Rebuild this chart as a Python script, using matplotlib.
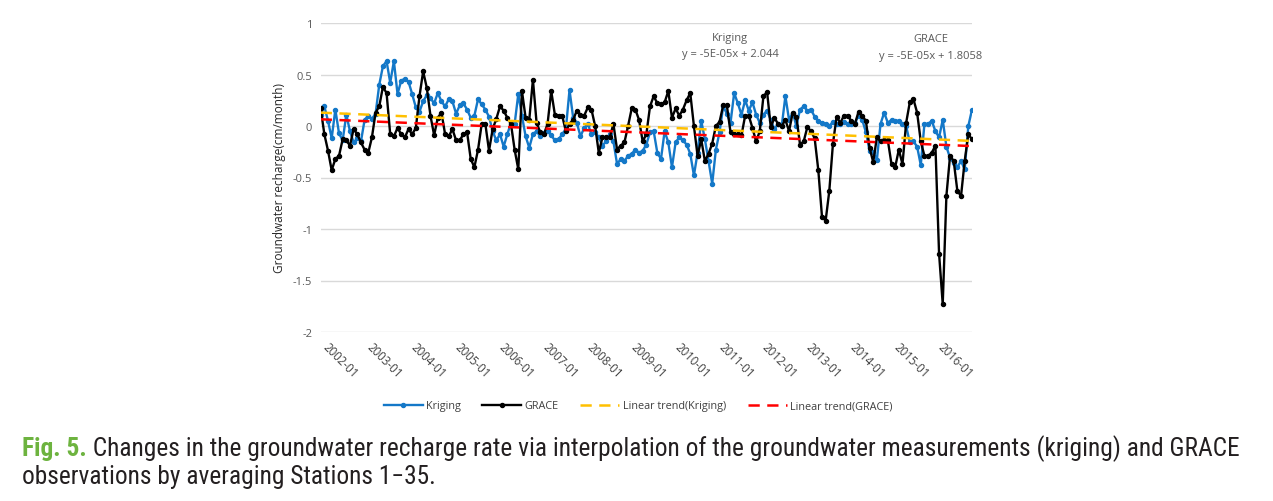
import matplotlib
matplotlib.use("Agg")
import matplotlib.pyplot as plt
import numpy as np

# ---------------- data (monthly, 2002-01 ... ) ----------------
kriging = [0.11, 0.19, 0.05, -0.12, 0.16, -0.07, -0.14, 0.11, -0.05, -0.16,
           -0.12, -0.15, 0.06, 0.10, 0.07, 0.12, 0.40, 0.58, 0.63, 0.42,
           0.63, 0.31, 0.44, 0.46, 0.43, 0.31, 0.18, 0.14, 0.24, 0.30,
           0.27, 0.22, 0.32, 0.24, 0.19, 0.26, 0.24, 0.12, 0.20, 0.22,
           0.16, 0.08, 0.10, 0.26, 0.21, 0.16, 0.09, -0.05, -0.14, -0.08,
           -0.20, -0.08, 0.03, 0.02, 0.31, 0.10, -0.10, -0.21, -0.08, -0.05,
           -0.10, -0.07, -0.05, -0.09, -0.14, -0.13, -0.08, -0.03, 0.35, 0.08,
           0.03, -0.10, -0.02, 0.02, -0.08, -0.06, -0.11, -0.19, -0.15, -0.08,
           -0.15, -0.37, -0.32, -0.34, -0.29, -0.27, -0.23, -0.26, -0.24, -0.18,
           -0.06, -0.05, -0.26, -0.32, -0.05, -0.16, -0.40, -0.16, -0.11, -0.14,
           -0.18, -0.27, -0.48, -0.26, 0.05, -0.13, -0.34, -0.56, -0.23, -0.06,
           0.19, 0.12, 0.03, 0.32, 0.22, 0.11, 0.25, 0.15, 0.23, 0.11,
           0.03, 0.11, 0.15, 0.06, -0.03, 0.02, 0.00, 0.29, 0.06, 0.13,
           0.00, 0.16, 0.19, 0.15, 0.16, 0.09, 0.05, 0.03, 0.02, 0.00,
           0.04, 0.02, 0.02, 0.04, 0.02, 0.02, 0.03, 0.10, 0.06, -0.06,
           -0.24, -0.25, -0.33, 0.02, 0.13, 0.03, 0.06, 0.05, 0.05, 0.02,
           0.00, -0.16, -0.15, -0.20, -0.38, 0.02, 0.02, 0.05, -0.05, -0.11,
           0.06, -0.20, -0.31, -0.36, -0.40, -0.34, -0.42, 0.00, 0.16]

grace = [0.17, -0.08, -0.24, -0.43, -0.32, -0.29, -0.13, -0.14, -0.19, -0.03,
         -0.08, -0.16, -0.23, -0.26, -0.11, 0.13, 0.19, 0.38, 0.32, -0.08,
         -0.10, -0.02, -0.08, -0.11, -0.03, -0.08, -0.02, 0.29, 0.53, 0.37,
         0.10, -0.09, 0.08, 0.13, -0.08, -0.10, -0.03, -0.14, -0.14, -0.08,
         -0.06, -0.32, -0.40, -0.23, 0.02, 0.02, -0.24, -0.03, 0.07, 0.19,
         0.15, 0.08, 0.02, -0.23, -0.42, 0.34, 0.08, 0.06, 0.45, 0.03,
         -0.06, -0.08, 0.02, 0.34, 0.11, 0.10, 0.10, -0.05, 0.02, 0.06,
         0.15, 0.11, 0.10, 0.18, 0.16, 0.00, -0.26, -0.11, -0.11, -0.11,
         0.02, -0.23, -0.19, -0.16, 0.00, 0.17, 0.16, 0.06, -0.15, -0.08,
         0.19, 0.29, 0.22, 0.21, 0.23, 0.34, 0.08, 0.17, 0.10, 0.16,
         0.25, 0.32, 0.00, -0.29, -0.13, -0.34, -0.27, -0.17, 0.00, 0.04,
         0.20, 0.20, -0.06, -0.08, -0.08, -0.09, 0.10, 0.10, -0.02, -0.15,
         -0.05, 0.29, 0.33, -0.01, 0.08, 0.02, 0.00, 0.06, -0.05, 0.13,
         0.09, -0.18, -0.15, -0.01, -0.05, -0.12, -0.43, -0.88, -0.92, -0.63,
         -0.17, 0.09, 0.03, 0.10, 0.10, 0.05, 0.02, 0.14, 0.10, 0.05,
         -0.21, -0.35, -0.11, -0.15, -0.14, -0.14, -0.37, -0.40, -0.23, -0.37,
         0.03, 0.23, 0.26, 0.13, -0.15, -0.29, -0.29, -0.26, -0.19, -1.24,
         -1.73, -0.68, -0.29, -0.34, -0.63, -0.68, -0.34, -0.08, -0.13]

# linear trend lines: values at first and last month
trend_kriging = [0.13, -0.145]
trend_grace = [0.065, -0.195]

tick_labels = ["2002-01", "2003-01", "2004-01", "2005-01", "2006-01",
               "2007-01", "2008-01", "2009-01", "2010-01", "2011-01",
               "2012-01", "2013-01", "2014-01", "2015-01", "2016-01"]
y_ticks = [-2, -1.5, -1, -0.5, 0, 0.5, 1]
y_tick_labels = ["-2", "-1.5", "-1", "-0.5", "0", "0.5", "1"]

series_names = ["Kriging", "GRACE", "Linear trend(Kriging)", "Linear trend(GRACE)"]
eq_kriging = ["Kriging", "y = -5E-05x + 2.044"]
eq_grace = ["GRACE", "y = -5E-05x + 1.8058"]
caption_fig = "Fig. 5."
caption_line1 = " Changes in the groundwater recharge rate via interpolation of the groundwater measurements (kriging) and GRACE"
caption_line2 = "observations by averaging Stations 1\u221235."

# ---------------- figure ----------------
W, H = 1273, 502
fig = plt.figure(figsize=(W / 100, H / 100), dpi=100)
fig.patch.set_facecolor("white")

chart_font = ["Open Sans", "DejaVu Sans"]
gray = "#595959"

ax = fig.add_axes([320.7 / W, 1 - 333 / H, (972 - 320.7) / W, (333 - 24) / H])
n = len(kriging)
x = np.arange(n)

blue = "#1478C8"
ax.plot(x, kriging, color=blue, lw=1.7, marker="o", ms=2.9, label=series_names[0], zorder=3)
ax.plot(x, grace, color="black", lw=1.7, marker="o", ms=2.9, label=series_names[1], zorder=4)
ax.plot([0, n - 1], trend_kriging, color="#FFC000", lw=1.8, ls=(0, (4.5, 3)),
        label=series_names[2], zorder=5)
ax.plot([0, n - 1], trend_grace, color="#FF0000", lw=1.8, ls=(0, (4.5, 3)),
        label=series_names[3], zorder=5)

ax.set_xlim(0, n - 1)
ax.set_ylim(-2, 1)
ax.set_yticks(y_ticks)
ax.set_yticklabels(y_tick_labels, fontsize=8, color=gray, family=chart_font)
ax.yaxis.grid(True, color="#D9D9D9", lw=1.0)
ax.set_axisbelow(True)
for s in ax.spines.values():
    s.set_visible(False)
ax.tick_params(axis="y", length=0, pad=6)

ax.set_xticks(np.arange(len(tick_labels)) * 12)
ax.set_xticklabels(tick_labels, rotation=-45, ha="left", va="top",
                   fontsize=8.3, color="#404040", family=chart_font)
ax.tick_params(axis="x", length=0, pad=6)

ax.set_ylabel("Groundwater recharge(cm/month)", fontsize=8.5, color="#262626",
              family=chart_font, labelpad=5)

leg = ax.legend(loc="center", bbox_to_anchor=(638 / W, 1 - 407 / H),
                bbox_transform=fig.transFigure, ncol=4, frameon=False,
                handlelength=3.6, columnspacing=2.0, handletextpad=0.3,
                prop={"family": chart_font, "size": 7.8})
for t in leg.get_texts():
    t.set_color("#404040")

# trend-line equation labels
fig.text(730 / W, 1 - 39 / H, eq_kriging[0], ha="center", va="center",
         fontsize=8, color=gray, family=chart_font)
fig.text(730 / W, 1 - 55 / H, eq_kriging[1], ha="center", va="center",
         fontsize=8, color=gray, family=chart_font)
fig.text(931 / W, 1 - 40 / H, eq_grace[0], ha="center", va="center",
         fontsize=8, color=gray, family=chart_font)
fig.text(931 / W, 1 - 56 / H, eq_grace[1], ha="center", va="center",
         fontsize=8, color=gray, family=chart_font)

# caption
cap_font = ["Roboto Condensed", "Roboto", "DejaVu Sans"]
renderer = fig.canvas.get_renderer()
x0 = 22
target_w = 1240 - 22
fs = 16
t_fig = fig.text(x0 / W, 1 - 456 / H, caption_fig, ha="left", va="baseline",
                 fontsize=fs, color="#6DB33F", fontweight="bold", family=cap_font)
t_rest = fig.text(0, 1 - 456 / H, caption_line1, ha="left", va="baseline",
                  fontsize=fs, color="#231F20", family=cap_font)
w1 = t_fig.get_window_extent(renderer).width + t_rest.get_window_extent(renderer).width
fs = fs * target_w / w1
t_fig.set_fontsize(fs)
t_rest.set_fontsize(fs)
wf = t_fig.get_window_extent(renderer).width
t_rest.set_x((x0 + wf) / W)
fig.text(x0 / W, 1 - 484 / H, caption_line2, ha="left", va="baseline",
         fontsize=fs, color="#231F20", family=cap_font)

fig.savefig("out.png", dpi=100, facecolor="white")
